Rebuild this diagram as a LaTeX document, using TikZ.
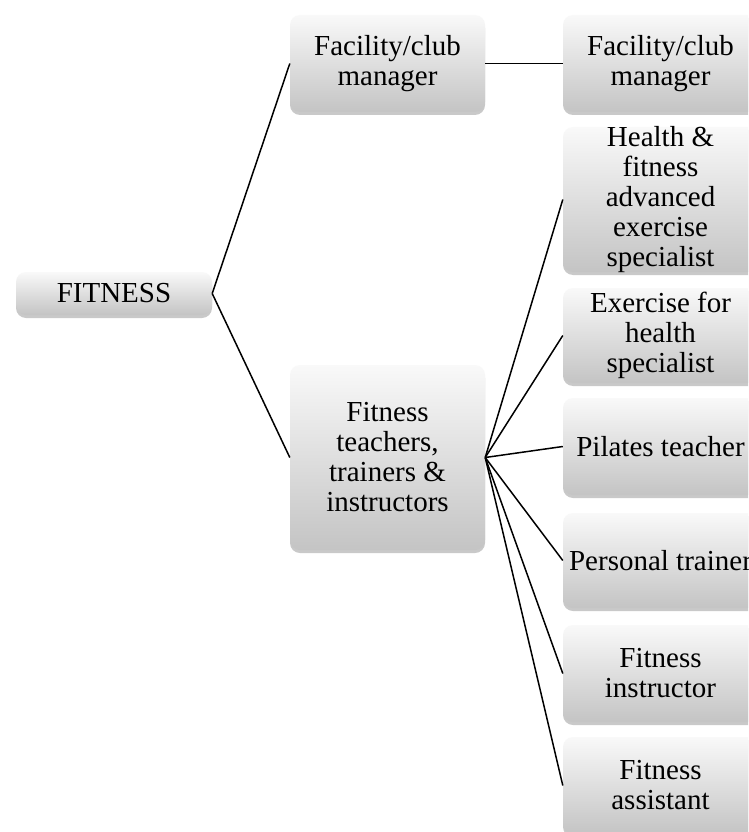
\documentclass[tikz,border=0pt]{standalone}
\usepackage{fontspec}
\setmainfont{Liberation Serif}
\usetikzlibrary{shadows}
\definecolor{boxtop}{RGB}{249,249,249}
\definecolor{boxbot}{RGB}{196,196,196}
\begin{document}
\begin{tikzpicture}[x=1pt,y=-1pt,
  box/.style={rectangle, rounded corners=10pt, inner sep=0pt,
    top color=boxtop, bottom color=boxbot, draw=none,
    minimum width=195pt,
    drop shadow={shadow xshift=0pt, shadow yshift=-3pt, opacity=0.35, fill=black!60}},
  txt/.style={align=center, inner sep=0pt, font=\fontsize{29}{30}\selectfont, text=black},
  conn/.style={line width=1.5pt, black}]
\useasboundingbox (0,0) rectangle (748,832);
\clip (0,0) rectangle (748,832);
\fill[white] (0,0) rectangle (748,832);

\node[box, minimum width=196pt, minimum height=43pt, label={[txt]center:FITNESS}] (fit) at (114,293.5) {};
\node[box, minimum height=97pt, label={[txt]center:{Facility/club\\manager}}] (fcm1) at (387.5,63.5) {};
\node[box, minimum height=185pt, label={[txt]center:{Fitness\\teachers,\\trainers \&\\instructors}}] (ftt) at (387.5,457.5) {};

\node[box, minimum height=97pt, label={[txt]center:{Facility/club\\manager}}] (fcm2) at (660.5,63.5) {};
\node[box, minimum height=145pt, label={[txt]center:{Health \&\\fitness\\advanced\\exercise\\specialist}}] (health) at (660.5,199.5) {};
\node[box, minimum height=95pt, label={[txt]center:{Exercise for\\health\\specialist}}] (exh) at (660.5,335.5) {};
\node[box, minimum height=97pt, label={[txt]center:{Pilates teacher}}] (pil) at (660.5,446.5) {};
\node[box, minimum height=95pt, label={[txt]center:{Personal trainer}}] (pt) at (660.5,560.5) {};
\node[box, minimum height=97pt, label={[txt]center:{Fitness\\instructor}}] (fi) at (660.5,673.5) {};
\node[box, minimum height=97pt, label={[txt]center:{Fitness\\assistant}}] (fa) at (660.5,785.5) {};

\draw[conn] (fit.east) -- (fcm1.west);
\draw[conn] (fit.east) -- (ftt.west);
\draw[conn] (fcm1.east) -- (fcm2.west);
\foreach \n in {health,exh,pil,pt,fi,fa}
  \draw[conn] (ftt.east) -- (\n.west);
\end{tikzpicture}
\end{document}
